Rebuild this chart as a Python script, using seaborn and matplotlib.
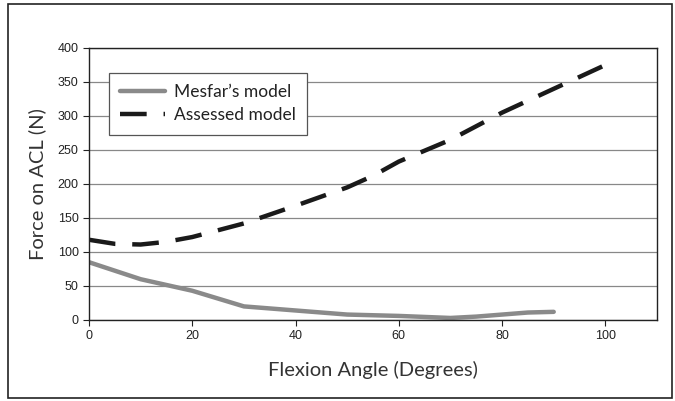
import matplotlib
matplotlib.use("Agg")
import matplotlib.pyplot as plt
import seaborn as sns
import pandas as pd
from matplotlib.patches import Rectangle

# Values
mesfar_angle = [0, 10, 20, 30, 40, 50, 60, 70, 75, 80, 85, 90]
mesfar_force = [85, 60, 43, 20, 14, 8, 6, 3, 5, 8, 11, 12]

assessed_angle = [0, 5, 10, 15, 20, 30, 35, 40, 50, 55, 60, 70, 80, 90, 100]
assessed_force = [118, 112, 111, 115, 122, 142, 155, 168, 195, 212, 233, 265, 305, 340, 375]

y_ticks = [0, 50, 100, 150, 200, 250, 300, 350, 400]
x_ticks = [0, 20, 40, 60, 80, 100]

sns.set_theme(style="white")
plt.rcParams['font.family'] = ['Liberation Sans', 'DejaVu Sans']
label_font = ['Lato', 'DejaVu Sans']

df_m = pd.DataFrame({'angle': mesfar_angle, 'force': mesfar_force})
df_a = pd.DataFrame({'angle': assessed_angle, 'force': assessed_force})

fig = plt.figure(figsize=(6.75, 4.01), dpi=100)
ax = fig.add_axes([89 / 675, 1 - 320 / 401, (657 - 89) / 675, (320 - 48) / 401])

# outer frame around the whole figure
fig.patches.append(Rectangle((8 / 675, 3 / 401), 664 / 675, 394 / 401,
                             transform=fig.transFigure, fill=False,
                             edgecolor='#222222', linewidth=1.2))

sns.lineplot(data=df_m, x='angle', y='force', ax=ax, color='#8a8a8a',
             linewidth=3.2, label="Mesfar\u2019s model")
sns.lineplot(data=df_a, x='angle', y='force', ax=ax, color='#1a1a1a',
             linewidth=3.2, dashes=False, label='Assessed model')
ax.lines[1].set_dashes([6, 3.8])

ax.set_xlim(0, 110)
ax.set_ylim(0, 400)
ax.set_xticks(x_ticks)
ax.set_yticks(y_ticks)
ax.tick_params(axis='both', labelsize=9, colors='#222222', length=4,
               width=0.8, direction='out', bottom=True, left=True)
ax.yaxis.grid(True, color='#888888', linewidth=0.9)
ax.xaxis.grid(False)
ax.set_axisbelow(True)
for s in ax.spines.values():
    s.set_color('#222222')
    s.set_linewidth(1.0)

ax.set_xlabel('Flexion Angle (Degrees)', fontsize=14.5, family=label_font,
              color='#333333', labelpad=13)
ax.set_ylabel('Force on ACL (N)', fontsize=14.5, family=label_font,
              color='#333333', labelpad=8)

leg = ax.legend(loc='upper left', bbox_to_anchor=(0.035, 0.908), borderaxespad=0,
                fancybox=False, framealpha=1, edgecolor='#555555',
                handlelength=2.6, handletextpad=0.5, borderpad=0.65, labelspacing=0.4,
                prop={'family': label_font, 'size': 12.5})
leg.get_frame().set_linewidth(0.9)
for t in leg.get_texts():
    t.set_color('#222222')

fig.savefig('out.png', dpi=100)
